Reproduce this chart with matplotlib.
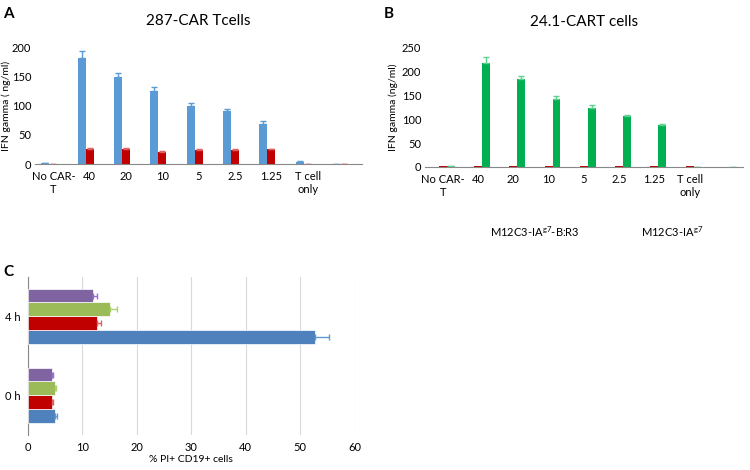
import numpy as np
import matplotlib.pyplot as plt

plt.rcParams['font.family'] = ['Lato', 'DejaVu Sans']

# panels A and B: IFN gamma
cats = ["No CAR-\nT", "40", "20", "10", "5", "2.5", "1.25", "T cell\nonly", ""]

a_blue = [1, 182, 148, 125, 99, 91, 69, 4, 0]
a_blue_err = [0.5, 12, 8, 6, 6, 3, 4, 1, 0]
a_red = [0.5, 26, 26, 21, 24, 24, 25, 0.5, 0]
a_red_err = [0, 1, 1, 1, 1, 1, 1, 0, 0]
a_green = [0.5, 0.8, 0.8, 0.8, 0.8, 0.8, 0.8, 0.3, 0]

b_blue = [0, 0, 0, 0, 0, 0, 0, 0, 0]
b_red = [1, 1.5, 1.5, 1.5, 1.5, 1.5, 1.5, 1, 0]
b_green = [1, 219, 185, 142, 123, 107, 89, 0.5, 0]
b_green_err = [0, 13, 7, 6, 6, 2, 2, 0, 0]

# panel C: % PI+ CD19+ cells
times = ["0 h", "4 h"]
c_blue = [5.0, 52.7]
c_blue_err = [0.3, 2.5]
c_red = [4.5, 12.7]
c_red_err = [0.2, 0.7]
c_green = [5.0, 15.0]
c_green_err = [0.2, 1.3]
c_purple = [4.5, 12.0]
c_purple_err = [0.2, 0.7]

BLUE_A = "#5b9bd5"
RED = "#c00000"
GREEN_B = "#00b050"
GREEN_A = "#1e7a3c"
FS = 8

fig = plt.figure(figsize=(7.5, 4.7), dpi=100)


def ifn_panel(ax, blue, red, green, blue_err, red_err, green_err, ymax, ylabel, gcol):
    x = np.arange(len(cats))
    w = 0.22
    z = np.zeros(len(cats))
    ax.bar(x - w, blue, w, color=BLUE_A, linewidth=0,
           yerr=None if blue_err is None else [z, blue_err],
           error_kw=dict(ecolor=BLUE_A, capsize=2.5, elinewidth=1, capthick=1))
    ax.bar(x, red, w, color=RED, linewidth=0,
           yerr=None if red_err is None else [z, red_err],
           error_kw=dict(ecolor="#e06060", capsize=2.5, elinewidth=1, capthick=1))
    ax.bar(x + w, green, w, color=gcol, linewidth=0,
           yerr=None if green_err is None else [z, green_err],
           error_kw=dict(ecolor="#60d090", capsize=2.5, elinewidth=1, capthick=1))
    ax.set_xlim(-0.5, len(cats) - 0.5)
    ax.set_ylim(0, ymax)
    ax.set_yticks(np.arange(0, ymax + 1, 50))
    ax.set_xticks(x)
    ax.set_xticklabels(cats, fontsize=FS, va="top")
    ax.tick_params(axis="x", length=0, labelsize=FS, pad=5)
    ax.tick_params(axis="y", length=0, labelsize=FS, pad=3)
    for s in ["top", "right", "left"]:
        ax.spines[s].set_visible(False)
    ax.spines["bottom"].set_color("#888888")
    ax.set_ylabel(ylabel, fontsize=7.5)


axA = fig.add_axes([0.047, 0.651, 0.436, 0.249])
ifn_panel(axA, a_blue, a_red, a_green, a_blue_err, a_red_err, None, 200,
          "IFN gamma ( ng/ml)", GREEN_A)
axA.yaxis.set_label_coords(-0.075, 0.5)
axA.set_title("287-CAR Tcells", fontsize=11, pad=16)

axB = fig.add_axes([0.567, 0.645, 0.423, 0.253])
ifn_panel(axB, b_blue, b_red, b_green, None, None, b_green_err, 250,
          "IFN gamma (ng/ml)", GREEN_B)
axB.yaxis.set_label_coords(-0.085, 0.5)
axB.set_title("24.1-CART cells", fontsize=11, pad=16)

fig.text(0.713, 0.506, r"M12C3-IA$^{\mathregular{g7}}$-B:R3", fontsize=FS, ha="center", va="center")
fig.text(0.896, 0.506, r"M12C3-IA$^{\mathregular{g7}}$", fontsize=FS, ha="center", va="center")

# panel C
axC = fig.add_axes([0.037, 0.075, 0.436, 0.336])
y = np.arange(len(times))
h = 0.175
series = [(c_blue, c_blue_err, "#4f81bd", "#5b9bd5"),
          (c_red, c_red_err, RED, "#e06060"),
          (c_green, c_green_err, "#9bbb59", "#a8d468"),
          (c_purple, c_purple_err, "#8064a2", "#9a6fd0")]
for i, (vals, err, col, ecol) in enumerate(series):
    axC.barh(y + (i - 1.5) * h, vals, h, color=col, edgecolor="white", linewidth=0.5,
             xerr=[np.zeros(len(vals)), err],
             error_kw=dict(ecolor=ecol, capsize=2.5, elinewidth=1, capthick=1), zorder=3)
axC.set_ylim(-0.5, 1.5)
axC.set_xlim(0, 60)
axC.set_xticks(np.arange(0, 61, 10))
axC.set_yticks(y)
axC.set_yticklabels(times)
axC.grid(axis="x", color="#d9d9d9", linewidth=0.8, zorder=0)
axC.tick_params(axis="both", length=0, labelsize=FS, pad=5)
for s in ["top", "right", "bottom"]:
    axC.spines[s].set_visible(False)
axC.spines["left"].set_color("#888888")
axC.set_xlabel("% PI+ CD19+ cells", fontsize=7.5, labelpad=2)

fig.text(0.004, 0.985, "A", fontsize=11, fontweight="bold", va="top")
fig.text(0.512, 0.985, "B", fontsize=11, fontweight="bold", va="top")
fig.text(0.004, 0.437, "C", fontsize=11, fontweight="bold", va="top")

fig.savefig("out.png", dpi=100)
